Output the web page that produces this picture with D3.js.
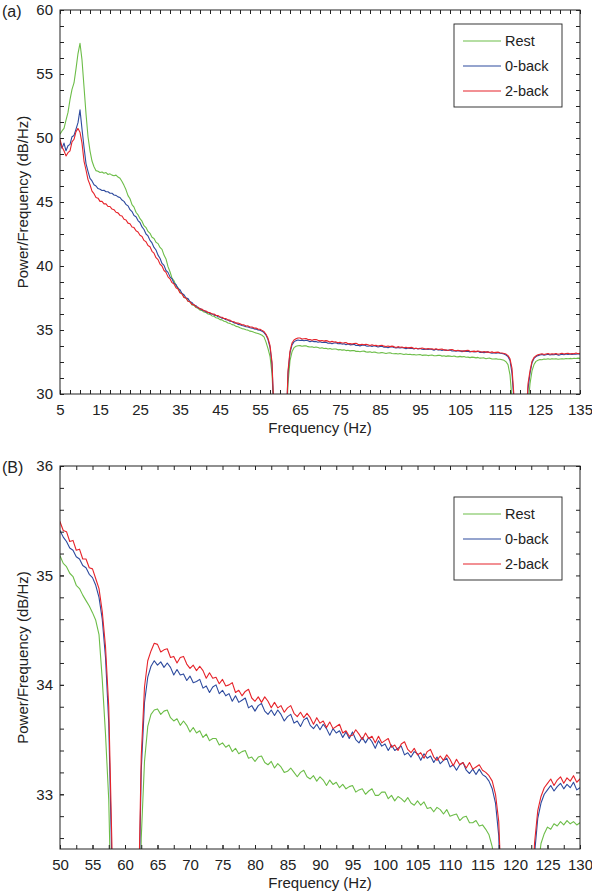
<!DOCTYPE html>
<html><head><meta charset="utf-8">
<script src="https://cdn.jsdelivr.net/npm/d3@7"></script>
<style>
body{margin:0;background:#fff}
svg{display:block}
text{font-family:"Liberation Sans",Arial,Helvetica,sans-serif;fill:#222}
</style>
</head><body>
<svg id="c" width="592" height="892"></svg>
<script>
// Frequency grid (Hz)
const freq=[
5,5.5,6,6.5,7,7.5,8,8.5,9,9.5,
10,10.5,11,11.5,12,12.5,13,13.5,14,14.5,
15,15.5,16,16.5,17,17.5,18,18.5,19,19.5,
20,20.5,21,21.5,22,22.5,23,23.5,24,24.5,
25,25.5,26,26.5,27,27.5,28,28.5,29,29.5,
30,30.5,31,31.5,32,32.5,33,33.5,34,34.5,
35,35.5,36,36.5,37,37.5,38,38.5,39,39.5,
40,40.5,41,41.5,42,42.5,43,43.5,44,44.5,
45,45.5,46,46.5,47,47.5,48,48.5,49,49.5,
50,50.5,51,51.5,52,52.5,53,53.5,54,54.5,
55,55.5,56,56.5,57,57.5,58,58.5,59,59.5,
60,60.5,61,61.5,62,62.5,63,63.5,64,64.5,
65,65.5,66,66.5,67,67.5,68,68.5,69,69.5,
70,70.5,71,71.5,72,72.5,73,73.5,74,74.5,
75,75.5,76,76.5,77,77.5,78,78.5,79,79.5,
80,80.5,81,81.5,82,82.5,83,83.5,84,84.5,
85,85.5,86,86.5,87,87.5,88,88.5,89,89.5,
90,90.5,91,91.5,92,92.5,93,93.5,94,94.5,
95,95.5,96,96.5,97,97.5,98,98.5,99,99.5,
100,100.5,101,101.5,102,102.5,103,103.5,104,104.5,
105,105.5,106,106.5,107,107.5,108,108.5,109,109.5,
110,110.5,111,111.5,112,112.5,113,113.5,114,114.5,
115,115.5,116,116.5,117,117.5,118,118.5,119,119.5,
120,120.5,121,121.5,122,122.5,123,123.5,124,124.5,
125,125.5,126,126.5,127,127.5,128,128.5,129,129.5,
130,130.5,131,131.5,132,132.5,133,133.5,134,134.5,
135];

// Rest (dB/Hz)
const rest=[
50.3,50.55,50.75,51.4,52.0,53.0,53.8,54.3,55.4,56.6,
57.4,56.1,54.0,51.9,50.1,49.0,48.2,47.75,47.45,47.4,
47.3,47.35,47.25,47.3,47.15,47.2,47.1,47.05,47.1,46.95,
46.85,46.6,46.3,45.95,45.5,45.25,44.8,44.6,44.2,44.0,
43.7,43.5,43.15,43.0,42.7,42.55,42.25,42.15,41.85,41.75,
41.45,41.3,40.85,40.55,39.95,39.55,39.05,38.85,38.45,38.3,
37.95,37.85,37.55,37.5,37.25,37.2,36.95,36.93,36.75,36.7,
36.55,36.52,36.4,36.37,36.25,36.22,36.1,36.07,35.96,35.92,
35.81,35.79,35.68,35.65,35.55,35.52,35.42,35.39,35.28,35.26,
35.18,35.11,35.08,35.02,34.99,34.91,34.88,34.82,34.77,34.72,
34.66,34.59,34.46,34.05,33.55,32.95,31.6,28.3,24,19,
15,19,23,27,30.8,32.6,33.3,33.62,33.73,33.77,
33.78,33.73,33.76,33.77,33.70,33.67,33.69,33.63,33.67,33.63,
33.57,33.61,33.56,33.58,33.52,33.55,33.49,33.51,33.51,33.45,
33.47,33.43,33.45,33.39,33.42,33.37,33.39,33.40,33.33,33.34,
33.30,33.34,33.35,33.29,33.27,33.30,33.24,33.28,33.25,33.20,
33.21,33.24,33.20,33.16,33.20,33.22,33.16,33.14,33.17,33.12,
33.16,33.13,33.08,33.13,33.09,33.11,33.06,33.09,33.05,33.07,
33.08,33.02,33.04,33.05,33.00,33.03,33.05,32.99,32.99,33.02,
33.02,32.96,32.99,32.94,32.98,32.96,32.93,32.97,32.92,32.90,
32.94,32.90,32.93,32.87,32.88,32.84,32.88,32.86,32.82,32.86,
32.80,32.81,32.82,32.76,32.79,32.80,32.74,32.74,32.76,32.71,
32.72,32.68,32.63,32.52,32.30,31.5,29.6,27,23,19,
15,19,23,26.5,29,30.8,31.8,32.3,32.55,32.64,
32.70,32.68,32.73,32.71,32.75,32.72,32.76,32.73,32.75,32.72,
32.74,32.76,32.73,32.77,32.75,32.78,32.76,32.79,32.77,32.80,
32.78];

// 0-back (dB/Hz)
const back0=[
49.7,49.2,49.6,49.0,49.4,49.5,50.1,50.2,50.7,51.2,
52.2,50.7,49.3,48.0,47.4,46.85,46.65,46.35,46.25,46.05,
46.0,45.9,45.92,45.8,45.8,45.68,45.68,45.55,45.52,45.4,
45.35,45.15,45.05,44.8,44.7,44.4,44.25,43.95,43.85,43.55,
43.4,43.05,42.85,42.5,42.35,42.0,41.8,41.45,41.25,40.85,
40.6,40.2,40.05,39.65,39.5,39.15,39.0,38.65,38.55,38.25,
38.15,37.85,37.75,37.5,37.45,37.2,37.15,36.95,36.9,36.72,
36.68,36.55,36.52,36.41,36.38,36.28,36.26,36.16,36.14,36.04,
36.02,35.92,35.9,35.8,35.78,35.68,35.66,35.56,35.54,35.44,
35.41,35.35,35.31,35.25,35.23,35.17,35.15,35.09,35.07,35.01,
34.98,34.91,34.80,34.60,34.25,33.65,32.30,28.3,24,19,
15,19,23,27,31.6,33.22,33.84,34.07,34.17,34.22,
34.18,34.21,34.16,34.20,34.16,34.09,34.14,34.09,34.10,34.04,
34.08,34.02,34.03,34.05,33.97,33.99,33.93,33.98,34.00,33.92,
33.95,33.90,33.92,33.85,33.90,33.84,33.86,33.88,33.79,33.81,
33.76,33.81,33.83,33.76,33.73,33.77,33.72,33.77,33.73,33.67,
33.71,33.73,33.65,33.67,33.62,33.68,33.70,33.63,33.60,33.64,
33.59,33.64,33.60,33.54,33.60,33.56,33.58,33.52,33.57,33.51,
33.57,33.50,33.47,33.52,33.47,33.52,33.48,33.42,33.49,33.44,
33.46,33.40,33.45,33.40,33.42,33.44,33.36,33.38,33.34,33.39,
33.37,33.31,33.37,33.33,33.35,33.29,33.34,33.28,33.31,33.33,
33.25,33.27,33.22,33.27,33.29,33.22,33.19,33.23,33.18,33.23,
33.18,33.16,33.12,33.05,32.92,32.62,31.6,29.4,25,20,
15,20,24,27.3,30.4,31.6,32.45,32.78,32.92,33.00,
33.04,33.08,33.03,33.07,33.10,33.05,33.09,33.06,33.11,33.04,
33.06,33.10,33.07,33.12,33.08,33.13,33.09,33.12,33.10,33.14,
33.11];

// 2-back (dB/Hz)
const back2=[
49.9,49.3,49.0,48.6,48.85,49.0,49.7,49.9,50.5,50.75,
50.45,49.6,48.2,47.5,46.75,46.35,45.85,45.65,45.35,45.3,
45.05,45.05,44.85,44.85,44.65,44.65,44.45,44.4,44.2,44.15,
43.95,43.9,43.65,43.6,43.35,43.3,43.05,43.0,42.75,42.65,
42.4,42.3,42.0,41.9,41.6,41.5,41.15,41.0,40.65,40.5,
40.15,40.0,39.65,39.5,39.15,39.0,38.7,38.6,38.3,38.2,
37.9,37.82,37.55,37.5,37.25,37.2,37.0,36.98,36.8,36.78,
36.63,36.63,36.5,36.48,36.37,36.36,36.25,36.25,36.13,36.13,
36.01,36.0,35.9,35.89,35.78,35.77,35.66,35.65,35.54,35.54,
35.49,35.41,35.40,35.31,35.32,35.23,35.24,35.15,35.15,35.07,
35.06,34.97,34.88,34.67,34.35,33.80,32.50,28.5,24,19,
15,19,23,27,31.8,33.35,33.98,34.22,34.31,34.38,
34.37,34.30,34.32,34.33,34.25,34.26,34.20,34.25,34.26,34.19,
34.15,34.18,34.13,34.17,34.13,34.06,34.11,34.06,34.07,34.01,
34.05,33.99,34.00,34.02,33.93,33.95,33.90,33.94,33.96,33.88,
33.85,33.89,33.84,33.89,33.85,33.79,33.84,33.79,33.81,33.75,
33.79,33.81,33.74,33.71,33.75,33.70,33.74,33.70,33.64,33.70,
33.65,33.67,33.61,33.66,33.60,33.62,33.64,33.56,33.58,33.53,
33.54,33.59,33.55,33.50,33.56,33.51,33.53,33.47,33.53,33.47,
33.49,33.51,33.43,33.45,33.40,33.46,33.48,33.41,33.38,33.42,
33.36,33.38,33.33,33.39,33.41,33.34,33.31,33.35,33.31,33.36,
33.32,33.26,33.32,33.27,33.29,33.24,33.29,33.23,33.25,33.27,
33.22,33.20,33.17,33.12,33.00,32.75,32.0,29.8,25,20,
15,20,24,27.5,30.8,31.8,32.55,32.85,32.98,33.06,
33.10,33.14,33.08,33.13,33.16,33.10,33.15,33.12,33.17,33.11,
33.14,33.18,33.12,33.16,33.19,33.13,33.17,33.15,33.20,33.14,
33.18];

const seriesNames=["Rest","0-back","2-back"];
const seriesColors=["#6cbd48","#2d4a9e","#e6232a"];

const xTicksA=[5,15,25,35,45,55,65,75,85,95,105,115,125,135];
const yTicksA=[30,35,40,45,50,55,60];
const xTicksB=[50,55,60,65,70,75,80,85,90,95,100,105,110,115,120,125,130];
const yTicksB=[33,34,35,36];

const svg=d3.select("#c");
const defs=svg.append("defs");
const L=60,R=580;
const FONT='"Liberation Sans",Arial,Helvetica,sans-serif';

function panel(o){
  const x=d3.scaleLinear().domain(o.xDom).range([L,R]);
  const y=d3.scaleLinear().domain(o.yDom).range([o.bottom,o.top]);
  const g=svg.append("g");
  const cid="clip"+o.key;
  defs.append("clipPath").attr("id",cid).append("rect")
    .attr("x",L).attr("y",o.top).attr("width",R-L).attr("height",o.bottom-o.top);

  const series=[rest,back0,back2];
  const idx=d3.range(freq.length).filter(i=>freq[i]>=o.xDom[0]-1&&freq[i]<=o.xDom[1]+1);
  series.forEach((s,k)=>{
    g.append("path")
      .datum(idx)
      .attr("clip-path",`url(#${cid})`)
      .attr("fill","none")
      .attr("stroke",seriesColors[k])
      .attr("stroke-width",1.1)
      .attr("stroke-linejoin","round")
      .attr("d",d3.line().x(i=>x(freq[i])).y(i=>y(s[i])));
  });

  const style=sel=>{
    sel.select(".domain").remove();
    sel.selectAll(".tick line").attr("stroke","#222").attr("stroke-width",1);
    sel.selectAll("text").attr("font-size",15).attr("font-family",FONT).attr("fill","#222");
  };
  const fmt=d3.format("d");
  // minor ticks on all sides
  g.append("g").attr("transform",`translate(0,${o.bottom})`)
    .call(d3.axisBottom(x).tickValues(o.xMinor).tickSize(-4).tickFormat("")).call(style);
  g.append("g").attr("transform",`translate(0,${o.top})`)
    .call(d3.axisTop(x).tickValues(o.xMinor).tickSize(-4).tickFormat("")).call(style);
  g.append("g").attr("transform",`translate(${L},0)`)
    .call(d3.axisLeft(y).tickValues(o.yMinor).tickSize(-4).tickFormat("")).call(style);
  g.append("g").attr("transform",`translate(${R},0)`)
    .call(d3.axisRight(y).tickValues(o.yMinor).tickSize(-4).tickFormat("")).call(style);
  // labelled ticks
  g.append("g").attr("transform",`translate(0,${o.bottom})`)
    .call(d3.axisBottom(x).tickValues(o.xTicks).tickSize(-4).tickPadding(10).tickFormat(fmt)).call(style);
  g.append("g").attr("transform",`translate(${L},0)`)
    .call(d3.axisLeft(y).tickValues(o.yTicks).tickSize(-4).tickPadding(7).tickFormat(fmt)).call(style);

  g.append("rect").attr("x",L).attr("y",o.top).attr("width",R-L).attr("height",o.bottom-o.top)
    .attr("fill","none").attr("stroke","#222").attr("stroke-width",1);

  // axis titles
  g.append("text").attr("x",(L+R)/2).attr("y",o.bottom+39).attr("text-anchor","middle")
    .attr("font-size",15).text("Frequency (Hz)");
  g.append("text").attr("transform",`translate(28,${(o.top+o.bottom)/2}) rotate(-90)`)
    .attr("text-anchor","middle").attr("font-size",15).text("Power/Frequency (dB/Hz)");
  // panel label
  g.append("text").attr("x",2).attr("y",o.top+7).attr("font-size",16).text(o.label);

  // legend
  const lg=g.append("g");
  lg.append("rect").attr("x",454).attr("y",o.legTop).attr("width",108).attr("height",83)
    .attr("fill","#fff").attr("stroke","#222").attr("stroke-width",0.9);
  const rows=[17,42,67];
  seriesNames.forEach((n,k)=>{
    const yy=o.legTop+rows[k];
    lg.append("line").attr("x1",463).attr("x2",501).attr("y1",yy).attr("y2",yy)
      .attr("stroke",seriesColors[k]).attr("stroke-width",1.1);
    lg.append("text").attr("x",505).attr("y",yy).attr("dy","0.35em").attr("font-size",14.5).text(n);
  });
}

panel({key:"A",label:"(a)",xDom:[5,135],yDom:[30,60],top:10,bottom:394,
  xTicks:xTicksA,yTicks:yTicksA,
  xMinor:d3.range(5,135.01,2.5),yMinor:d3.range(30,60.01,1.25),legTop:24});
panel({key:"B",label:"(B)",xDom:[50,130],yDom:[32.5,36],top:466,bottom:849,
  xTicks:xTicksB,yTicks:yTicksB,
  xMinor:d3.range(50,130.01,2.5),yMinor:d3.range(32.6,36.01,0.2),legTop:497});
</script>
</body></html>
